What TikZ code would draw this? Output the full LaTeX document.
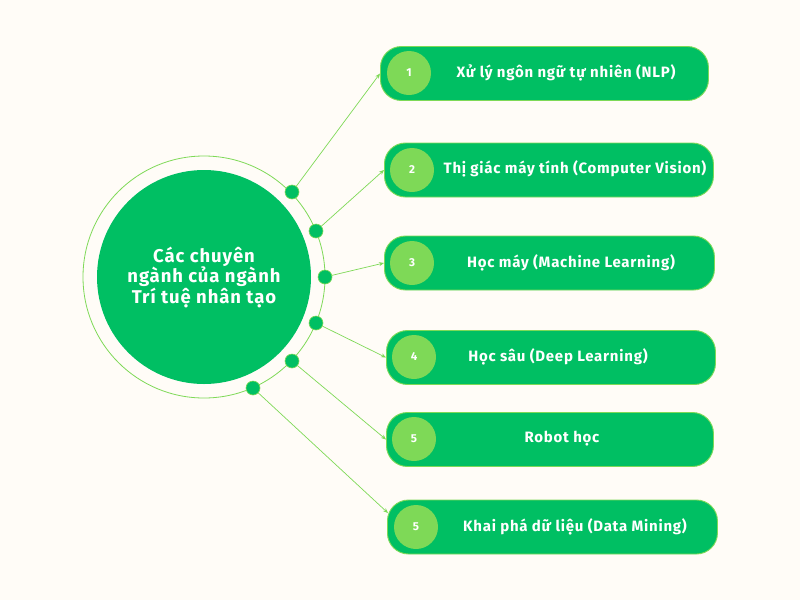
\documentclass[tikz,border=0pt]{standalone}
\usepackage{fontspec}
\setmainfont{Fira Sans}[LetterSpace=5]
\usetikzlibrary{arrows.meta,calc}
\definecolor{dgreen}{HTML}{00BF63}
\definecolor{lgreen}{HTML}{7ED957}
\definecolor{bgc}{HTML}{FFFCF7}
\tikzset{
  itembox/.style={draw=lgreen, line width=0.9pt, fill=dgreen, rounded corners=21pt, minimum height=54pt, anchor=west, inner sep=0pt},
  numdisc/.style={circle, fill=lgreen, minimum size=44pt, inner sep=0pt, text=white, font=\fontsize{11.5}{13}\selectfont\bfseries},
  itemtext/.style={text=white, font=\fontsize{15}{17}\selectfont\bfseries, inner sep=0pt},
  ringdot/.style={circle, fill=dgreen, draw=lgreen, line width=0.6pt, minimum size=14pt, inner sep=0pt},
  link/.style={draw=lgreen, line width=0.7pt, -{Stealth[length=5pt,width=4pt]}}
}
\begin{document}
\begin{tikzpicture}[x=1pt,y=-1pt]
\useasboundingbox[fill=bgc] (0,0) rectangle (800,600);
% ring and main disc
\draw[lgreen, line width=0.8pt] (204,277) circle[radius=121];
\node[circle, fill=dgreen, minimum size=214pt, inner sep=0pt] (main) at (204,277) {};
\node[text=white, font=\fontsize{18.5}{20.5}\selectfont\bfseries, align=center] (maintext) at (204,277) {Các chuyên\\ngành của ngành\\Trí tuệ nhân tạo};
% boxes
\node[itembox, minimum width=328pt] (b1) at (380,73.5) {};
\node[itembox, minimum width=329pt] (b2) at (384,170) {};
\node[itembox, minimum width=330pt] (b3) at (384,263) {};
\node[itembox, minimum width=329pt] (b4) at (386,357.5) {};
\node[itembox, minimum width=327pt] (b5) at (386,439.5) {};
\node[itembox, minimum width=330pt] (b6) at (387,527) {};
% number discs
\node[numdisc] (n1) at (409,73) {1};
\node[numdisc] (n2) at (412,170) {2};
\node[numdisc] (n3) at (412,263) {3};
\node[numdisc] (n4) at (414,357) {4};
\node[numdisc] (n5) at (414,439) {5};
\node[numdisc] (n6) at (416,527) {5};
% labels
\node[itemtext] (t1) at (566,73) {Xử lý ngôn ngữ tự nhiên (NLP)};
\node[itemtext] (t2) at (575,169) {Thị giác máy tính (Computer Vision)};
\node[itemtext] (t3) at (571,263) {Học máy (Machine Learning)};
\node[itemtext] (t4) at (558,357) {Học sâu (Deep Learning)};
\node[itemtext] (t5) at (562,439) {Robot học};
\node[itemtext] (t6) at (575,527) {Khai phá dữ liệu (Data Mining)};
% dots
\node[ringdot] (d1) at (292,192) {};
\node[ringdot] (d2) at (316,231) {};
\node[ringdot] (d3) at (325,277) {};
\node[ringdot] (d4) at (316,323) {};
\node[ringdot] (d5) at (292,361) {};
\node[ringdot] (d6) at (253,388) {};
\coordinate (e6) at ($(b6.west)+(1,-14)$);
% links
\draw[link] (d1) -- (b1.west);
\draw[link] (d2) -- (b2.west);
\draw[link] (d3) -- (b3.west);
\draw[link] (d4) -- (b4.west);
\draw[link] (d5) -- (b5.west);
\draw[link] (d6) -- (e6);
\end{tikzpicture}
\end{document}
